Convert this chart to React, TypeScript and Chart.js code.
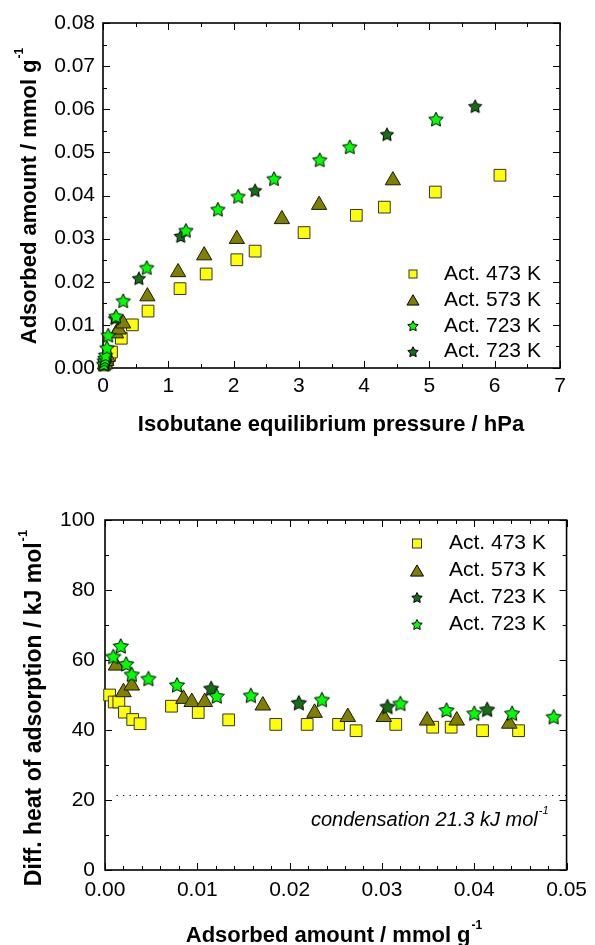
import React, { useEffect, useRef } from 'react';
import { Chart, registerables } from 'chart.js';

Chart.register(...registerables);

const FONT = "'Liberation Sans', Arial, Helvetica, sans-serif";

// ===== Top panel: adsorption isotherms (pressure / hPa, amount / mmol g-1) =====
const topPressure473 = [0.02, 0.03, 0.05, 0.07, 0.10, 0.13, 0.28, 0.45, 0.69, 1.18, 1.58, 2.05, 2.33, 3.08, 3.88, 4.31, 5.09, 6.08];
const topAmount473 = [0.0007, 0.0010, 0.0015, 0.0020, 0.0030, 0.0037, 0.0069, 0.0100, 0.0132, 0.0184, 0.0218, 0.0251, 0.0271, 0.0314, 0.0354, 0.0373, 0.0408, 0.0447];
const topPressure573 = [0.03, 0.05, 0.07, 0.20, 0.24, 0.31, 0.68, 1.15, 1.55, 2.05, 2.74, 3.31, 4.44];
const topAmount573 = [0.0008, 0.0016, 0.0025, 0.0080, 0.0089, 0.0103, 0.0166, 0.0222, 0.0261, 0.0299, 0.0345, 0.0378, 0.0435];
const topPressure723a = [0.01, 0.02, 0.03, 0.04, 0.06, 0.08, 0.20, 0.31, 0.67, 1.27, 1.76, 2.07, 2.62, 3.32, 3.78, 5.10];
const topAmount723a = [0.0009, 0.0017, 0.0023, 0.0030, 0.0047, 0.0076, 0.0120, 0.0156, 0.0233, 0.0319, 0.0368, 0.0398, 0.0439, 0.0483, 0.0513, 0.0577];
const topPressure723b = [0.02, 0.03, 0.18, 0.55, 1.19, 2.33, 4.35, 5.70];
const topAmount723b = [0.0008, 0.0015, 0.0115, 0.0208, 0.0306, 0.0412, 0.0542, 0.0607];

// ===== Bottom panel: differential heats (amount / mmol g-1, heat / kJ mol-1) =====
const botAmount473 = [0.0005, 0.0010, 0.0015, 0.0021, 0.0030, 0.0038, 0.0072, 0.0101, 0.0134, 0.0185, 0.0219, 0.0253, 0.0272, 0.0315, 0.0355, 0.0375, 0.0409, 0.0448];
const botHeat473 = [50.0, 48.0, 48.0, 45.1, 43.0, 41.8, 46.8, 45.0, 42.9, 41.6, 41.6, 41.6, 39.8, 41.6, 40.8, 40.8, 39.8, 39.8];
const botAmount573 = [0.0012, 0.0020, 0.0029, 0.0085, 0.0094, 0.0108, 0.0171, 0.0227, 0.0263, 0.0302, 0.0349, 0.0381, 0.0438];
const botHeat573 = [58.4, 50.8, 52.7, 48.9, 48.0, 48.0, 47.0, 44.9, 43.7, 43.7, 42.7, 42.7, 41.8];
const botAmount723a = [0.0009, 0.0017, 0.0023, 0.0029, 0.0047, 0.0078, 0.0121, 0.0158, 0.0235, 0.0320, 0.0370, 0.0400, 0.0441, 0.0486];
const botHeat723a = [61.0, 64.0, 58.9, 55.9, 54.7, 52.9, 49.7, 49.9, 48.7, 47.6, 45.7, 44.8, 44.8, 43.8];
const botAmount723b = [0.0115, 0.0210, 0.0306, 0.0414];
const botHeat723b = [51.9, 47.8, 46.7, 45.9];

const condensationHeat = 21.3;
const condensationRange = [0.00125, 0.05];

// ===== Ticks & labels =====
const topXTicks = [0, 1, 2, 3, 4, 5, 6, 7];
const topYTicks = [0, 0.01, 0.02, 0.03, 0.04, 0.05, 0.06, 0.07, 0.08];
const botXTicks = [0, 0.01, 0.02, 0.03, 0.04, 0.05];
const botYTicks = [0, 20, 40, 60, 80, 100];
const seriesLabels = ['Act. 473 K', 'Act. 573 K', 'Act. 723 K', 'Act. 723 K'];

const COL473 = '#FFFF00';
const COL573 = '#808000';
const COL723a = '#00FF00';
const COL723b = '#157015';

const zip = (xs: number[], ys: number[]) => xs.map((x, i) => ({ x, y: ys[i] }));

function minors(major: number[], sub: number) {
  const out: number[] = [];
  for (let i = 0; i < major.length - 1; i++) {
    for (let k = 1; k < sub; k++) out.push(major[i] + ((major[i + 1] - major[i]) * k) / sub);
  }
  return out;
}

function starPath(ctx: CanvasRenderingContext2D, cx: number, cy: number, R: number) {
  ctx.beginPath();
  for (let i = 0; i < 10; i++) {
    const r = i % 2 === 0 ? R : R * 0.5;
    const a = -Math.PI / 2 + (i * Math.PI) / 5;
    const x = cx + r * Math.cos(a);
    const y = cy + r * Math.sin(a);
    if (i === 0) ctx.moveTo(x, y);
    else ctx.lineTo(x, y);
  }
  ctx.closePath();
}

function makeStar(R: number, fill: string) {
  const s = Math.ceil(2 * R + 4);
  const c = document.createElement('canvas');
  c.width = s;
  c.height = s;
  const ctx = c.getContext('2d')!;
  starPath(ctx, s / 2, s / 2 + 0.095 * R, R);
  ctx.fillStyle = fill;
  ctx.fill();
  ctx.lineWidth = 1;
  ctx.strokeStyle = '#000';
  ctx.stroke();
  return c;
}

type Part = { t: string; sup?: boolean };

function drawRich(
  ctx: CanvasRenderingContext2D,
  parts: Part[],
  o: { x: number; y: number; size: number; bold?: boolean; italic?: boolean; rotate?: boolean; align: string; supScale?: number; supRise?: number; gap?: number }
) {
  ctx.save();
  ctx.translate(o.x, o.y);
  if (o.rotate) ctx.rotate(-Math.PI / 2);
  const supScale = o.supScale ?? 0.55;
  const supRise = o.supRise ?? 0.6;
  const fontFor = (sup?: boolean) =>
    `${o.italic ? 'italic ' : ''}${o.bold ? 'bold ' : ''}${sup ? Math.round(o.size * supScale) : o.size}px ${FONT}`;
  const widths = parts.map((p) => {
    ctx.font = fontFor(p.sup);
    return ctx.measureText(p.t).width;
  });
  const gap = o.gap ?? 1;
  const total = widths.reduce((a, b) => a + b, 0) + gap * (parts.length - 1);
  let cx = o.align === 'center' ? -total / 2 : o.align === 'right' ? -total : 0;
  ctx.fillStyle = '#000';
  ctx.textAlign = 'left';
  ctx.textBaseline = 'alphabetic';
  parts.forEach((p, i) => {
    ctx.font = fontFor(p.sup);
    ctx.fillText(p.t, cx, p.sup ? -o.size * supRise : 0);
    cx += widths[i] + gap;
  });
  ctx.restore();
}

const framePlugin = {
  id: 'frame',
  beforeDatasetsDraw(chart: any, _a: any, o: any) {
    if (!o || !o.xMajor) return;
    const { ctx, chartArea: a } = chart;
    const xs = chart.scales.x;
    const ys = chart.scales.y;
    ctx.save();
    ctx.strokeStyle = '#000';
    ctx.lineWidth = 1;
    ctx.beginPath();
    const xt = (v: number, len: number) => {
      const p = Math.round(xs.getPixelForValue(v)) + 0.5;
      ctx.moveTo(p, a.bottom);
      ctx.lineTo(p, a.bottom - len);
      ctx.moveTo(p, a.top);
      ctx.lineTo(p, a.top + len);
    };
    const yt = (v: number, len: number) => {
      const p = Math.round(ys.getPixelForValue(v)) + 0.5;
      ctx.moveTo(a.left, p);
      ctx.lineTo(a.left + len, p);
      ctx.moveTo(a.right, p);
      ctx.lineTo(a.right - len, p);
    };
    o.xMajor.forEach((v: number) => xt(v, 7));
    minors(o.xMajor, o.xSub).forEach((v: number) => xt(v, 4));
    o.yMajor.forEach((v: number) => yt(v, 7));
    minors(o.yMajor, o.ySub).forEach((v: number) => yt(v, 4));
    ctx.stroke();
    ctx.lineWidth = 1.6;
    ctx.strokeRect(a.left, a.top, a.right - a.left, a.bottom - a.top);
    ctx.restore();
  },
};

function drawMarker(ctx: CanvasRenderingContext2D, it: any, x: number, y: number) {
  ctx.save();
  ctx.lineWidth = 1;
  ctx.strokeStyle = '#000';
  ctx.fillStyle = it.fill;
  if (it.style === 'rect') {
    const s = it.size;
    ctx.fillRect(x - s / 2, y - s / 2, s, s);
    ctx.strokeStyle = '#333';
    ctx.strokeRect(x - s / 2, y - s / 2, s, s);
  } else if (it.style === 'triangle') {
    const w = it.size;
    const h = w * 0.86;
    ctx.beginPath();
    ctx.moveTo(x, y - h / 2);
    ctx.lineTo(x + w / 2, y + h / 2);
    ctx.lineTo(x - w / 2, y + h / 2);
    ctx.closePath();
    ctx.fill();
    ctx.stroke();
  } else {
    starPath(ctx, x, y + 0.095 * it.size, it.size);
    ctx.fill();
    ctx.stroke();
  }
  ctx.restore();
}

const textPlugin = {
  id: 'texts',
  afterDraw(chart: any, _a: any, o: any) {
    if (!o) return;
    const ctx = chart.ctx;
    (o.titles || []).forEach((t: any) => drawRich(ctx, t.parts, t));
    if (o.legend) {
      const L = o.legend;
      ctx.save();
      L.items.forEach((it: any, i: number) => {
        const y = L.y0 + i * L.dy;
        drawMarker(ctx, it, L.markerX, y);
        ctx.font = `${L.size}px ${FONT}`;
        ctx.fillStyle = '#000';
        ctx.textBaseline = 'middle';
        ctx.textAlign = 'left';
        ctx.fillText(chart.data.datasets[it.ds].label, L.textX, y);
      });
      ctx.restore();
    }
    if (o.note) {
      const ys = chart.scales.y;
      drawRich(ctx, o.note.parts, {
        ...o.note,
        x: chart.chartArea.right - o.note.dxRight,
        y: ys.getPixelForValue(o.note.value) + o.note.dy,
      });
    }
  },
};

function axisTicks(values: number[], digits: number, size: number, padding: number) {
  return {
    afterBuildTicks: (scale: any) => {
      scale.ticks = values.map((v) => ({ value: v }));
    },
    grid: { display: false, drawTicks: false, tickLength: 0 },
    border: { display: false },
    ticks: {
      autoSkip: false,
      maxRotation: 0,
      minRotation: 0,
      padding,
      color: '#000',
      font: { family: FONT, size },
      callback: (v: any) => Number(v).toFixed(digits),
    },
  };
}

function makeTop() {
  const starA = makeStar(7.6, COL723a);
  const starB = makeStar(7.0, COL723b);
  return {
    type: 'scatter',
    data: {
      datasets: [
        { label: seriesLabels[0], data: zip(topPressure473, topAmount473), pointStyle: 'rect', pointRadius: 8.3, backgroundColor: COL473, borderColor: '#333', borderWidth: 1, order: 4, clip: false },
        { label: seriesLabels[1], data: zip(topPressure573, topAmount573), pointStyle: 'triangle', pointRadius: 8.8, backgroundColor: COL573, borderColor: '#1a1a00', borderWidth: 1, order: 3, clip: false },
        { label: seriesLabels[2], data: zip(topPressure723a, topAmount723a), pointStyle: starA, pointRadius: 8, order: 1, clip: false },
        { label: seriesLabels[3], data: zip(topPressure723b, topAmount723b), pointStyle: starB, pointRadius: 7, order: 2, clip: false },
      ],
    },
    options: {
      animation: false,
      responsive: false,
      devicePixelRatio: 1,
      events: [],
      layout: { padding: { top: 23, right: 35, left: 0, bottom: 0 } },
      plugins: {
        legend: { display: false },
        tooltip: { enabled: false },
        frame: { xMajor: topXTicks, xSub: 2, yMajor: topYTicks, ySub: 2 },
        texts: {
          titles: [
            { parts: [{ t: 'Isobutane equilibrium pressure / hPa' }], x: 331, y: 431, size: 22, bold: true, align: 'center' },
            { parts: [{ t: 'Adsorbed amount / mmol g' }, { t: '-1', sup: true }], x: 36, y: 196, size: 22, bold: true, rotate: true, align: 'center' },
          ],
          legend: {
            markerX: 413, textX: 444, y0: 274, dy: 25.9, size: 21,
            items: [
              { ds: 0, style: 'rect', size: 8, fill: COL473 },
              { ds: 1, style: 'triangle', size: 12, fill: COL573 },
              { ds: 2, style: 'star', size: 5.5, fill: COL723a },
              { ds: 3, style: 'star', size: 5.5, fill: COL723b },
            ],
          },
        },
      },
      scales: {
        x: { type: 'linear', min: 0, max: 7, afterFit: (s: any) => { s.height = 92; }, ...axisTicks(topXTicks, 0, 21, 6) },
        y: { type: 'linear', min: 0, max: 0.08, afterFit: (s: any) => { s.width = 103; }, ...axisTicks(topYTicks, 2, 21, 8) },
      },
    },
    plugins: [framePlugin, textPlugin],
  };
}

function makeBottom() {
  const starA = makeStar(8, COL723a);
  const starB = makeStar(8, COL723b);
  return {
    type: 'scatter',
    data: {
      datasets: [
        { label: seriesLabels[0], data: zip(botAmount473, botHeat473), pointStyle: 'rect', pointRadius: 8.3, backgroundColor: COL473, borderColor: '#333', borderWidth: 1, order: 4, clip: false },
        { label: seriesLabels[1], data: zip(botAmount573, botHeat573), pointStyle: 'triangle', pointRadius: 9, backgroundColor: COL573, borderColor: '#1a1a00', borderWidth: 1, order: 3, clip: false },
        { label: seriesLabels[3], data: zip(botAmount723b, botHeat723b), pointStyle: starB, pointRadius: 8, order: 2, clip: false },
        { label: seriesLabels[2], data: zip(botAmount723a, botHeat723a), pointStyle: starA, pointRadius: 8, order: 1, clip: false },
        { label: 'condensation', data: condensationRange.map((x) => ({ x, y: condensationHeat })), showLine: true, pointRadius: 0, borderColor: '#000', borderWidth: 1, borderDash: [1.3, 5.2], order: 5 },
      ],
    },
    options: {
      animation: false,
      responsive: false,
      devicePixelRatio: 1,
      events: [],
      layout: { padding: { top: 60, right: 25, left: 0, bottom: 0 } },
      plugins: {
        legend: { display: false },
        tooltip: { enabled: false },
        frame: { xMajor: botXTicks, xSub: 5, yMajor: botYTicks, ySub: 2 },
        texts: {
          titles: [
            { parts: [{ t: 'Adsorbed amount / mmol g' }, { t: '-1', sup: true }], x: 334, y: 481.7, size: 22, bold: true, align: 'center' },
            { parts: [{ t: 'Diff. heat of adsorption / kJ mol' }, { t: '-1', sup: true }], x: 40.7, y: 248, size: 23, bold: true, rotate: true, align: 'center' },
          ],
          legend: {
            markerX: 417, textX: 449, y0: 83.5, dy: 27, size: 21,
            items: [
              { ds: 0, style: 'rect', size: 9, fill: COL473 },
              { ds: 1, style: 'triangle', size: 13, fill: COL573 },
              { ds: 2, style: 'star', size: 5.5, fill: COL723b },
              { ds: 3, style: 'star', size: 5.5, fill: COL723a },
            ],
          },
          note: {
            parts: [{ t: 'condensation 21.3 kJ mol' }, { t: '-1', sup: true }],
            value: condensationHeat, dxRight: 18, dy: 31, size: 20, italic: true, align: 'right',
          },
        },
      },
      scales: {
        x: { type: 'linear', min: 0, max: 0.05, afterFit: (s: any) => { s.height = 75; }, ...axisTicks(botXTicks, 2, 21, 8) },
        y: { type: 'linear', min: 0, max: 100, afterFit: (s: any) => { s.width = 105; }, ...axisTicks(botYTicks, 0, 21, 10) },
      },
    },
    plugins: [framePlugin, textPlugin],
  };
}

function ChartBox({ make, top, height }: { make: () => any; top: number; height: number }) {
  const ref = useRef<HTMLCanvasElement>(null);
  useEffect(() => {
    const chart = new Chart(ref.current as HTMLCanvasElement, make());
    return () => chart.destroy();
  }, []);
  return (
    <canvas
      ref={ref}
      width={595}
      height={height}
      style={{ position: 'absolute', left: 0, top, width: 595, height, display: 'block' }}
    />
  );
}

export default function App() {
  return (
    <div style={{ position: 'absolute', left: 0, top: 0, width: 595, height: 945, background: '#fff', overflow: 'hidden' }}>
      <ChartBox make={makeTop} top={0} height={460} />
      <ChartBox make={makeBottom} top={460} height={485} />
    </div>
  );
}
